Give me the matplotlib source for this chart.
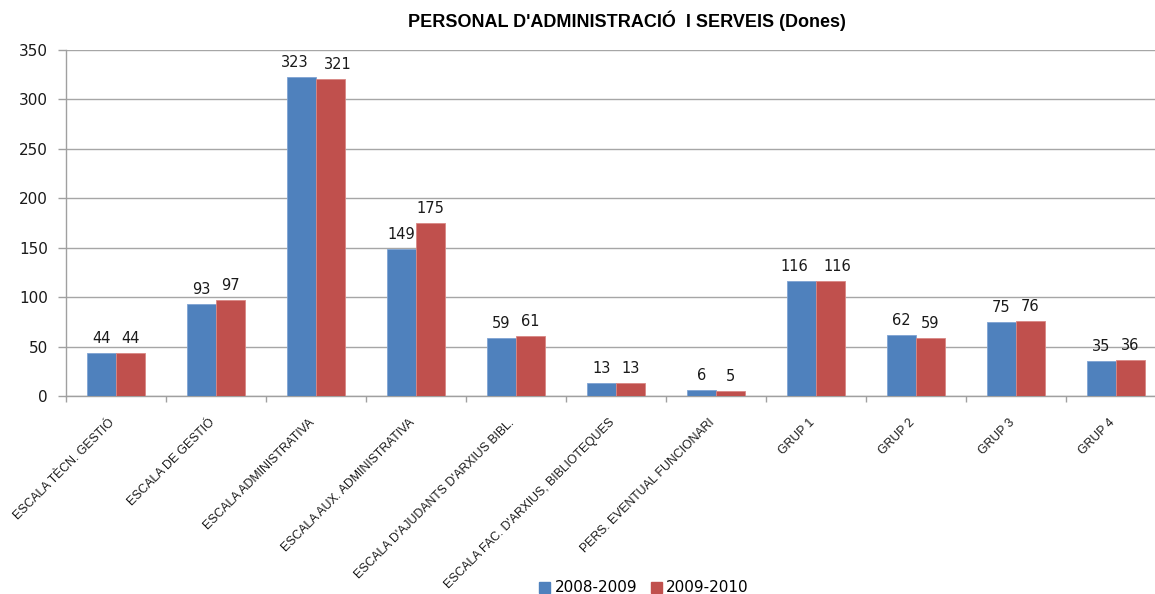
import numpy as np
import matplotlib
matplotlib.use("Agg")
import matplotlib.pyplot as plt
import matplotlib.transforms as mtransforms
from matplotlib.patches import Patch

categories = [
    "ESCALA TÈCN. GESTIÓ",
    "ESCALA DE GESTIÓ",
    "ESCALA ADMINISTRATIVA",
    "ESCALA AUX. ADMINISTRATIVA",
    "ESCALA D'AJUDANTS D'ARXIUS BIBL.",
    "ESCALA FAC. D'ARXIUS, BIBLIOTEQUES",
    "PERS. EVENTUAL FUNCIONARI",
    "GRUP 1",
    "GRUP 2",
    "GRUP 3",
    "GRUP 4",
]
series_names = ["2008-2009", "2009-2010"]
values_0809 = [44, 93, 323, 149, 59, 13, 6, 116, 62, 75, 35]
values_0910 = [44, 97, 321, 175, 61, 13, 5, 116, 59, 76, 36]
colors = ["#4F81BD", "#C0504D"]
edge_colors = ["#7FA3D3", "#D98784"]
title = "PERSONAL D'ADMINISTRACIÓ  I SERVEIS (Dones)"

fig = plt.figure(figsize=(11.55, 5.94), dpi=100)
# plot area runs past the right edge of the picture, as in the reference
ax = fig.add_axes([66 / 1155, 1 - 396 / 594, 1100 / 1155, 346 / 594])

x = np.arange(len(categories))
width = 0.29
all_vals = [values_0809, values_0910]
for i, (vals, col, ec) in enumerate(zip(all_vals, colors, edge_colors)):
    pos = x + (i - 0.5) * width
    ax.bar(pos, vals, width, color=col, edgecolor=ec, linewidth=0.6, zorder=3)
    for k, (p, v) in enumerate(zip(pos, vals)):
        other = all_vals[1 - i][k]
        # push wide labels apart when they would touch
        dx = 0
        if len(str(v)) >= 3 and abs(v - other) < 15:
            dx = -5 if i == 0 else 5
        ax.annotate(str(v), (p, v), xytext=(dx, 5), textcoords="offset points",
                    ha="center", va="bottom", fontsize=10.5, family="DejaVu Sans",
                    color="#1a1a1a")

ax.set_xlim(-0.5, len(categories) - 0.5)
ax.set_ylim(0, 350)
ax.set_yticks(np.arange(0, 351, 50))
ax.yaxis.grid(True, color="#a6a6a6", linewidth=1.0, zorder=0)
ax.set_axisbelow(True)

for side in ["top", "right"]:
    ax.spines[side].set_visible(False)
for side in ["left", "bottom"]:
    ax.spines[side].set_color("#a0a0a0")
    ax.spines[side].set_linewidth(1.0)

# category boundary ticks on x
ax.set_xticks(np.arange(-0.5, len(categories) - 0.5 + 1e-9, 1.0))
ax.set_xticklabels([])
ax.tick_params(axis="x", length=4, color="#a0a0a0", width=1.0)
ax.tick_params(axis="y", length=6, color="#a0a0a0", width=1.0,
               labelsize=11, labelcolor="#1a1a1a", pad=7)
for lbl in ax.get_yticklabels():
    lbl.set_family("DejaVu Sans")

# rotated category labels ending at the category centre
offset = mtransforms.ScaledTranslation(-3 / 100, -25 / 100, fig.dpi_scale_trans)
trans = mtransforms.blended_transform_factory(ax.transData, ax.transAxes) + offset
for xi, name in zip(x, categories):
    ax.text(xi, 0, name, transform=trans, rotation=45, rotation_mode="anchor",
            ha="right", va="center", fontsize=8.8, family="Liberation Sans",
            color="#1a1a1a")

fig.text(627 / 1155, 1 - 21 / 594, title, ha="center", va="center",
         fontsize=13, fontweight="bold", family="Liberation Sans")

handles = [Patch(facecolor=c, edgecolor=c) for c in colors]
fig.legend(handles, series_names, loc="center", bbox_to_anchor=(644 / 1155, 1 - 588 / 594),
           ncol=2, frameon=False, handlelength=0.7, handleheight=0.7,
           handletextpad=0.3, columnspacing=0.9, prop={"family": "DejaVu Sans", "size": 11})

fig.savefig("out.png", dpi=100)
